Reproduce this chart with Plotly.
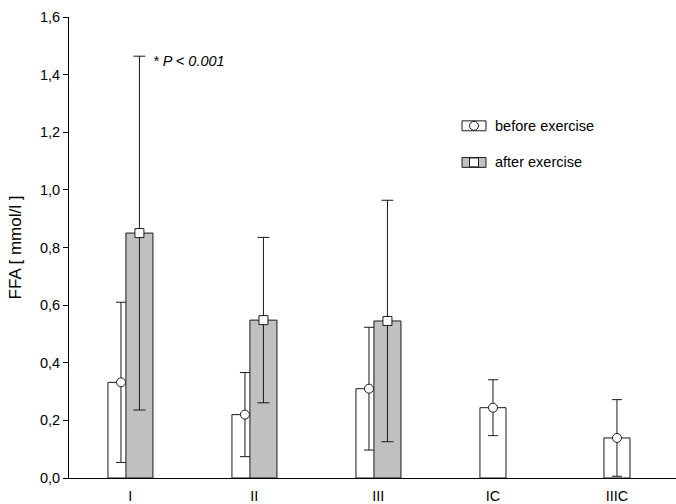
import plotly.graph_objects as go

# ---- data ----
groups = ["I", "II", "III", "IC", "IIIC"]
before_mean = [0.332, 0.220, 0.310, 0.244, 0.139]
before_sd = [0.278, 0.146, 0.213, 0.097, 0.133]
after_groups = ["I", "II", "III"]
after_mean = [0.850, 0.548, 0.545]
after_sd = [0.614, 0.287, 0.419]
y_ticks = [0.0, 0.2, 0.4, 0.6, 0.8, 1.0, 1.2, 1.4, 1.6]

# ---- layout constants ----
W, H = 676, 504
ML, MR, MT, MB = 69, 0, 17, 21
PW, PH = W - ML - MR, H - MT - MB
GRAY_SHIFT = 0.149      # offset of "after" bar centre from "before" bar centre
BW_BEFORE = 0.21
BW_AFTER = 0.218
FONT = "Liberation Sans, Arial, sans-serif"
FS = 14.5
LINE = "#1a1a1a"

pos = {g: i for i, g in enumerate(groups)}
xb = [pos[g] for g in groups]
xa = [pos[g] + GRAY_SHIFT for g in after_groups]
tickpos = [pos[g] + (GRAY_SHIFT / 2 if g in after_groups else 0) for g in groups]

def px(x):
    return (x - ML) / PW

def py(y):
    return (H - MB - y) / PH

fig = go.Figure()
fig.add_trace(go.Bar(x=xb, y=before_mean, width=BW_BEFORE,
                     marker=dict(color="white", line=dict(color=LINE, width=1)),
                     showlegend=False, hoverinfo="skip"))
fig.add_trace(go.Bar(x=xa, y=after_mean, width=BW_AFTER,
                     marker=dict(color="#c0c0c0", line=dict(color=LINE, width=1)),
                     showlegend=False, hoverinfo="skip"))
fig.add_trace(go.Scatter(x=xb, y=before_mean, mode="markers",
                         error_y=dict(type="data", array=before_sd, color=LINE,
                                      thickness=1, width=5),
                         marker=dict(symbol="circle", size=9, color="white",
                                     line=dict(color=LINE, width=1)),
                         showlegend=False))
fig.add_trace(go.Scatter(x=xa, y=after_mean, mode="markers",
                         error_y=dict(type="data", array=after_sd, color=LINE,
                                      thickness=1, width=6),
                         marker=dict(symbol="square", size=9, color="white",
                                     line=dict(color=LINE, width=1)),
                         showlegend=False))

# custom legend
shapes = []
for yc, fill in [(127, "white"), (164, "#c0c0c0")]:
    shapes.append(dict(type="rect", xref="paper", yref="paper",
                       x0=px(462), x1=px(486), y0=py(yc + 5), y1=py(yc - 5),
                       fillcolor=fill, line=dict(color=LINE, width=1)))
shapes.append(dict(type="circle", xref="paper", yref="paper",
                   x0=px(469.5), x1=px(478.5), y0=py(131.5), y1=py(122.5),
                   fillcolor="white", line=dict(color=LINE, width=1)))
shapes.append(dict(type="rect", xref="paper", yref="paper",
                   x0=px(469.5), x1=px(478.5), y0=py(168.5), y1=py(159.5),
                   fillcolor="white", line=dict(color=LINE, width=1)))

annotations = [
    dict(text="before exercise", x=px(493), y=py(127), xref="paper", yref="paper",
         xanchor="left", yanchor="middle", showarrow=False),
    dict(text="after exercise", x=px(493), y=py(164), xref="paper", yref="paper",
         xanchor="left", yanchor="middle", showarrow=False),
    dict(text="<i>* P &lt; 0.001</i>", x=px(151), y=py(61), xref="paper", yref="paper",
         xanchor="left", yanchor="middle", showarrow=False),
]

fig.update_layout(
    width=W, height=H,
    margin=dict(l=ML, r=MR, t=MT, b=MB),
    paper_bgcolor="white", plot_bgcolor="white",
    barmode="overlay",
    separators=",.",
    font=dict(family=FONT, size=FS, color="black"),
    shapes=shapes, annotations=annotations,
    xaxis=dict(range=[-0.419, 4.476], showline=True, linecolor="black", linewidth=1,
               showgrid=False, zeroline=False, tickmode="array", tickvals=tickpos,
               ticktext=groups, ticks="", ticklabelstandoff=5),
    yaxis=dict(range=[0, 1.6], showline=True, linecolor="black", linewidth=1,
               showgrid=False, zeroline=False, tickmode="array", tickvals=y_ticks,
               tickformat=".1f", ticks="outside", ticklen=5, tickcolor="black",
               title=dict(text="FFA [ mmol/l ]", standoff=13)),
)

fig.write_html("out.html",
               config={"displayModeBar": False},
               post_script="document.body.style.margin='0';document.body.style.padding='0';")
